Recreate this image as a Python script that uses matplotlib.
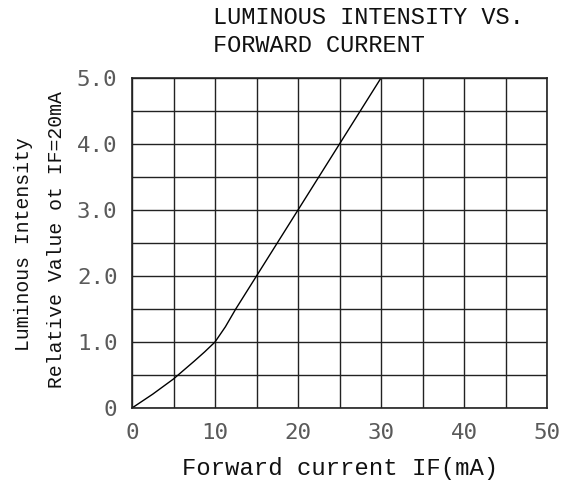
import matplotlib
matplotlib.use('Agg')
import matplotlib.pyplot as plt

# Data
current = [0, 2.5, 5, 7.5, 8.75, 10, 11.25, 12.5, 15, 20, 25, 30]
intensity = [0, 0.21, 0.44, 0.71, 0.85, 1.0, 1.23, 1.5, 2.0, 3.0, 4.0, 5.0]
x_ticks = [0, 10, 20, 30, 40, 50]
x_tick_labels = ['0', '10', '20', '30', '40', '50']
y_ticks = [0, 1, 2, 3, 4, 5]
y_tick_labels = ['0', '1.0', '2.0', '3.0', '4.0', '5.0']
x_minor = [5, 15, 25, 35, 45]
y_minor = [0.5, 1.5, 2.5, 3.5, 4.5]

W, H = 580, 492
fig = plt.figure(figsize=(W / 100, H / 100), dpi=100)
ax = fig.add_axes([132 / W, 1 - 408 / H, (547 - 132) / W, (408 - 78) / H])

ax.plot(current, intensity, color='black', lw=1.0)
ax.set_xlim(0, 50)
ax.set_ylim(0, 5)

ax.set_xticks(x_ticks)
ax.set_xticklabels(x_tick_labels)
ax.set_yticks(y_ticks)
ax.set_yticklabels(y_tick_labels)
ax.set_xticks(x_minor, minor=True)
ax.set_yticks(y_minor, minor=True)
ax.grid(True, which='both', color='#222222', lw=1.0)
ax.set_axisbelow(True)
ax.tick_params(which='both', length=0)
ax.tick_params(axis='x', pad=10.5)
ax.tick_params(axis='y', pad=10.5)
for lab in ax.get_xticklabels() + ax.get_yticklabels():
    lab.set_fontfamily('DejaVu Sans Mono')
    lab.set_fontsize(16.2)
    lab.set_color('#5a5a5a')
for sp in ax.spines.values():
    sp.set_color('#222222')
    sp.set_linewidth(1.2)

mono = 'Liberation Mono'
fig.text(213 / W, 1 - 18 / H, 'LUMINOUS INTENSITY VS.', family=mono, fontsize=17,
         ha='left', va='center', color='#111111')
fig.text(213 / W, 1 - 46 / H, 'FORWARD CURRENT', family=mono, fontsize=17,
         ha='left', va='center', color='#111111')
fig.text(340 / W, 1 - 468 / H, 'Forward current IF(mA)', family=mono, fontsize=17.2,
         ha='center', va='center', color='#111111')
fig.text(24 / W, 1 - 244 / H, 'Luminous Intensity', family=mono, fontsize=14.2,
         ha='center', va='center', rotation=90, color='#111111')
fig.text(57 / W, 1 - 240 / H, 'Relative Value ot IF=20mA', family=mono, fontsize=14.2,
         ha='center', va='center', rotation=90, color='#111111')

fig.savefig('out.png', dpi=100)
